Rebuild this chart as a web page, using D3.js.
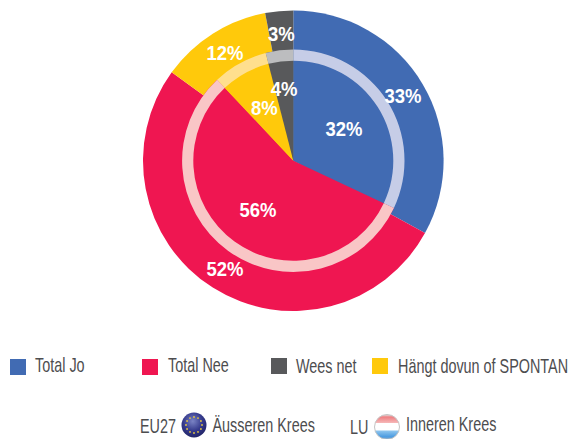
<!DOCTYPE html>
<html><head><meta charset="utf-8">
<script src="https://cdn.jsdelivr.net/npm/d3@7"></script>
<style>html,body{margin:0;padding:0;background:#fff}svg{display:block}
text{font-family:"Liberation Sans",sans-serif}</style></head>
<body><svg id="c" width="568" height="439"></svg>
<script>
const categories=["Total Jo","Total Nee","Hängt dovun of SPONTAN","Wees net"];
const colors=["#416bb3","#ef1651","#ffc90b","#58595b"];
const ringTints=["#c6cde7","#f9c6c6","#ffdf8e","#bcbdbf"];
const outerValues=[33,52,12,3];   // EU27
const innerValues=[32,56,8,4];    // LU
const legendOrder=["Total Jo","Total Nee","Wees net","Hängt dovun of SPONTAN"];
const legendX=[10,142,271,372];
const legendY=[367,367,366,366];
const legendTextY=[372,372,373,373];
const cx=293.3,cy=160.7,R=150.3,ringO=111.2,ringI=100;
const svg=d3.select("#c");
const color=d3.scaleOrdinal(categories,colors);
const pie=d3.pie().sort(null);
const arc=(r)=>d3.arc().innerRadius(0).outerRadius(r);
const g=svg.append("g").attr("transform",`translate(${cx},${cy})`);
const outerArcs=pie(outerValues),innerArcs=pie(innerValues);
g.selectAll(".o").data(outerArcs).join("path").attr("d",arc(R)).attr("fill",(d,i)=>colors[i]);
g.selectAll(".i").data(innerArcs).join("path").attr("d",arc(ringO)).attr("fill",(d,i)=>colors[i]);
g.selectAll(".r").data(innerArcs).join("path").attr("d",d3.arc().innerRadius(ringI).outerRadius(ringO)).attr("fill",(d,i)=>ringTints[i]);
function lab(arcs,rf){
 g.selectAll(null).data(arcs).join("text")
  .attr("transform",d=>{const a=(d.startAngle+d.endAngle)/2,r=rf(d);return `translate(${r*Math.sin(a)},${-r*Math.cos(a)}) scale(0.88,1)`;})
  .attr("text-anchor","middle").attr("dy","0.35em")
  .attr("font-size",21).attr("font-weight","bold").attr("fill","#fff")
  .text(d=>d.value+"%");
}
lab(outerArcs,()=>127.5);
lab(innerArcs,d=>d.value<5?73:60);
const txt=(x,y,s)=>svg.append("text").attr("transform",`translate(${x},${y}) scale(0.72,1)`).attr("font-size",20).attr("fill","#4d4d4f").text(s);
// legend
legendOrder.forEach((n,i)=>{
 svg.append("rect").attr("x",legendX[i]).attr("y",legendY[i]-8).attr("width",16).attr("height",16).attr("fill",color(n));
 txt(i==1?168:legendX[i]+(i==3?26:25),legendTextY[i],n);
});
// flags
const defs=svg.append("defs");
const eu=defs.append("radialGradient").attr("id","eu").attr("cx",.45).attr("cy",.35).attr("r",.7);
eu.append("stop").attr("offset",0).attr("stop-color","#7a83c4");
eu.append("stop").attr("offset",.55).attr("stop-color","#353a8c");
eu.append("stop").attr("offset",1).attr("stop-color","#1f2160");
const lu=defs.append("linearGradient").attr("id","lu").attr("x1",0).attr("y1",0).attr("x2",0).attr("y2",1);
[[0,"#e8e8e8"],[.1,"#ee7f82"],[.33,"#f6b6b6"],[.36,"#ffffff"],[.62,"#ffffff"],[.66,"#8cc4ee"],[.9,"#4a9ae0"],[1,"#a8b8c8"]].forEach(s=>lu.append("stop").attr("offset",s[0]).attr("stop-color",s[1]));
txt(140,433,"EU27");
svg.append("circle").attr("cx",194).attr("cy",425).attr("r",12.5).attr("fill","url(#eu)");
d3.range(12).forEach(i=>{const a=i*Math.PI/6;svg.append("circle").attr("cx",194+8*Math.cos(a)).attr("cy",425+8*Math.sin(a)).attr("r",.9).attr("fill","#e8c840");});
txt(212.5,432,"Äusseren Krees");
txt(350,434,"LU");
svg.append("circle").attr("cx",387).attr("cy",427).attr("r",12.5).attr("fill","url(#lu)").attr("stroke","#c4c4c4").attr("stroke-width",1);
txt(406,431,"Inneren Krees");
</script></body></html>
